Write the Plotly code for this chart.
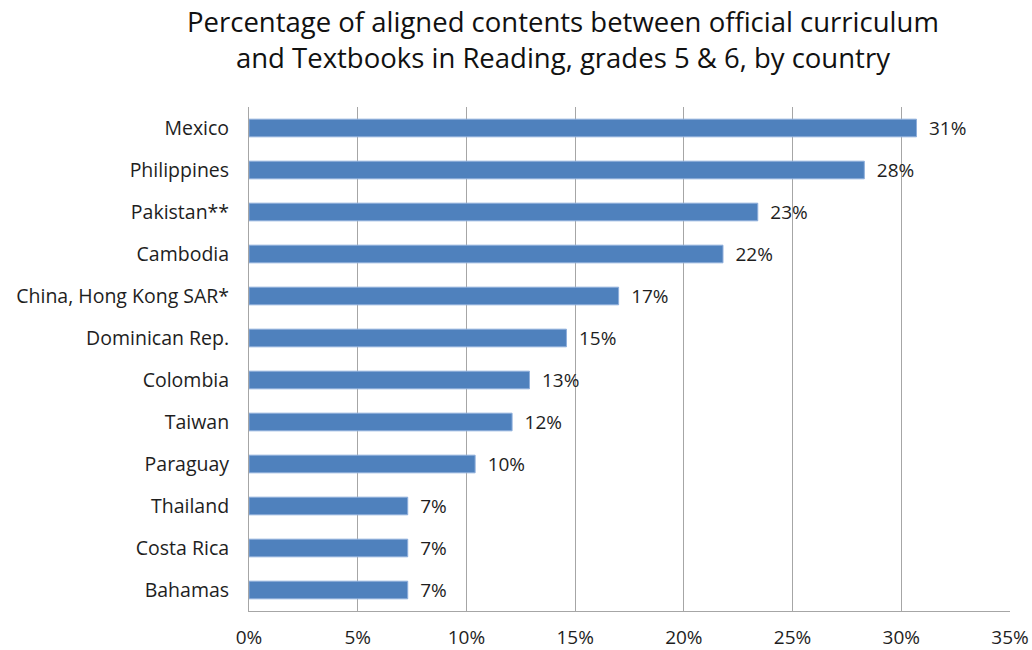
import plotly.graph_objects as go

countries = ["Mexico", "Philippines", "Pakistan**", "Cambodia", "China, Hong Kong SAR*",
             "Dominican Rep.", "Colombia", "Taiwan", "Paraguay", "Thailand", "Costa Rica", "Bahamas"]
values = [0.307, 0.283, 0.234, 0.218, 0.170, 0.146, 0.129, 0.121, 0.104, 0.073, 0.073, 0.073]
x_ticks = [0, 0.05, 0.10, 0.15, 0.20, 0.25, 0.30, 0.35]
title_text = ("Percentage of aligned contents between official curriculum<br>"
              "and Textbooks in Reading, grades 5 & 6, by country")

FONT = "Open Sans"
TXT = "#1E1E1E"

fig = go.Figure(go.Bar(
    x=values, y=countries, orientation="h",
    marker=dict(color="#4F81BD", line=dict(color="#8EAEDB", width=1)),
    width=0.42,
    texttemplate="\u2002%{x:.0%}", textposition="outside",
    textfont=dict(family=FONT, size=19, color=TXT),
    constraintext="none",
    cliponaxis=False,
))

fig.update_layout(
    width=1032, height=650,
    paper_bgcolor="white", plot_bgcolor="white",
    margin=dict(l=249, r=22, t=107, b=39, autoexpand=False),
    showlegend=False,
    annotations=[dict(
        text=title_text, xref="paper", yref="paper",
        x=0.412, y=1.134, xanchor="center", yanchor="middle",
        showarrow=False, align="center",
        font=dict(family=FONT, size=27.5, color="#111111"),
    )],
)
fig.update_xaxes(
    range=[0, 0.35], tickvals=x_ticks, tickformat=".0%",
    showgrid=True, gridcolor="#A6A6A6", gridwidth=1,
    showline=True, linecolor="#A6A6A6", linewidth=1,
    zeroline=False, ticks="", ticklabelstandoff=9, automargin=False,
    tickfont=dict(family=FONT, size=19, color=TXT),
)
fig.update_yaxes(
    autorange="reversed", showgrid=False,
    showline=True, linecolor="#A6A6A6", linewidth=1,
    ticks="", ticklabelstandoff=15, automargin=False,
    tickfont=dict(family=FONT, size=19.5, color=TXT),
)

fig.write_html("out.html", config={"displayModeBar": False},
               post_script="document.body.style.margin='0';")
